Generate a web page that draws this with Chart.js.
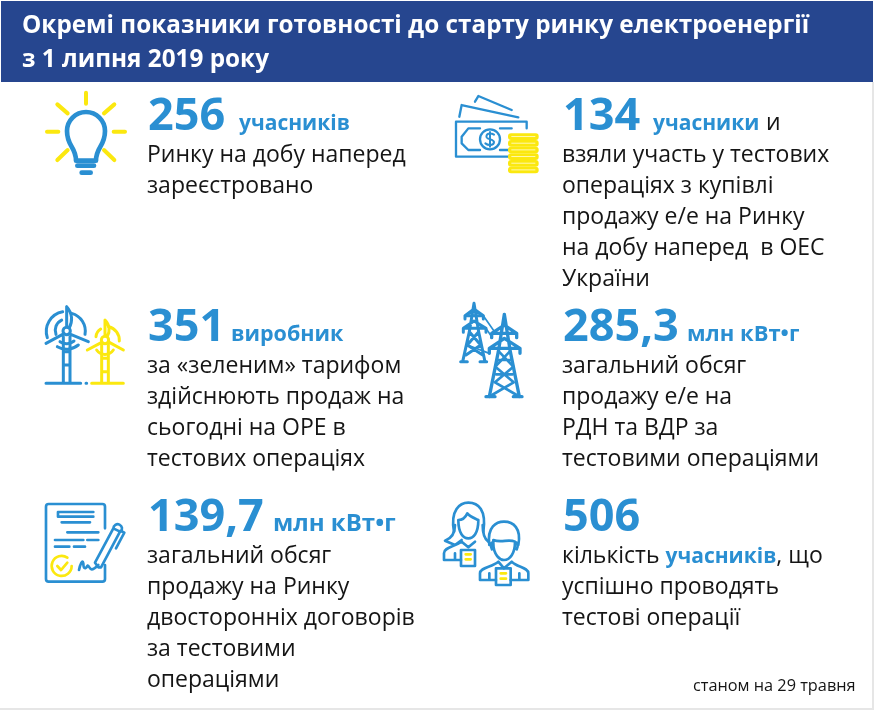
<!DOCTYPE html>
<html>
<head>
<meta charset="utf-8">
<script src="https://cdn.jsdelivr.net/npm/chart.js@4"></script>
<style>
  html, body { margin: 0; padding: 0; background: #fff; }
  #wrap { position: relative; width: 874px; height: 710px; }
</style>
</head>
<body>
<div id="wrap"><canvas id="chart"></canvas></div>
<script>
const titleLines = ['Окремі показники готовності до старту ринку електроенергії', 'з 1 липня 2019 року'];
const indicatorValues = [256, 134, 351, 285.3, 139.7, 506];
const indicatorUnits = ['учасників', 'учасники', 'виробник', 'млн кВт•г', 'млн кВт•г', ''];
const indicatorCaptions = [
    ['Ринку на добу наперед', 'зареєстровано'],
    ['взяли участь у тестових', 'операціях з купівлі', 'продажу е/е на Ринку', 'на добу наперед  в ОЕС', 'України'],
    ['за «зеленим» тарифом', 'здійснюють продаж на', 'сьогодні на ОРЕ в', 'тестових операціях'],
    ['загальний обсяг', 'продажу е/е на', 'РДН та ВДР за', 'тестовими операціями'],
    ['загальний обсяг', 'продажу на Ринку', 'двосторонніх договорів', 'за тестовими', 'операціями'],
    ['кількість *учасників*, що', 'успішно проводять', 'тестові операції']
];
const footNote = 'станом на 29 травня';

// layout only, the text and icons hang off the dataset points
const columnX = [147, 562];
const rowY = [130, 341, 531];
const unitAfter = ['', 'и', '', '', '', ''];
const unitX = [92, 91, 84, 125, 126, 0];
const unitSize = [21, 21, 21.5, 22, 24, 0];
const BLUE = '#2a8fd2', YELLOW = '#fbe80f', NAVY = '#26468f', INK = '#151515';
const FONT = '"Open Sans", sans-serif';

function paths(ctx, color, lw, d) {
    ctx.strokeStyle = color;
    ctx.lineWidth = lw;
    ctx.stroke(new Path2D(d));
}

// icons are sketched at 3x, origin given relative to the indicator point
const icons = [
    { dx: -147, dy: -130, draw(c) {
        paths(c, YELLOW, 12, 'M258 278V311 M141 395H175 M341 395H375 M172 313L203 340 M343 313L312 340 M172 480L203 450 M343 480L312 450');
        paths(c, BLUE, 14, 'M228 482C228 440 201 440 201 393A57 57 0 1 1 315 393C315 440 288 440 288 482Z');
        paths(c, BLUE, 14, 'M232 497H282 M245 518H272');
    } },
    { dx: -122, dy: -50, draw(c) {
        paths(c, BLUE, 7, 'M58 110L65 75L235 112 M105 65L115 48L215 90 M205 230H48V125H260V145');
        paths(c, BLUE, 7, 'M120 145H85L65 170V190L85 210H120 M180 145H215 M180 210H205 M180 178A30 30 0 1 1 120 178A30 30 0 1 1 180 178');
        paths(c, BLUE, 6, 'M162 164C150 156 136 162 140 172C144 180 160 176 162 186C162 196 146 198 136 190 M150 156V200');
        for (let i = 0; i < 6; i++) {
            const y = 160 + i * 20;
            c.fillStyle = YELLOW;
            c.beginPath();
            c.roundRect(204, y, 92, 20, 9);
            c.fill();
            c.fillStyle = '#fff8b0';
            c.fillRect(214, y + 8, 72, 3);
        }
    } },
    { dx: -117, dy: -46, draw(c) {
        const b = 'M100 125V265 M120 125V265 M48 265H152 M100 170H120 M100 210H120 ';
        paths(c, BLUE, 9, b + 'M110 35V95 M110 35C128 55 128 80 118 98 M48 145L98 118 M175 140L122 118');
        paths(c, BLUE, 9, 'M52 128A60 60 0 0 1 98 50 M78 118A34 34 0 0 1 95 75 M125 55A55 55 0 0 1 165 118 M82 155A55 55 0 0 0 145 150 M90 140A35 35 0 0 0 132 138 M121 108A11 11 0 1 1 99 108A11 11 0 1 1 121 108 M168 265H170');
        const y = 'M215 150V265 M235 150V265 M185 265H280 M215 190H235 M215 230H235 ';
        paths(c, YELLOW, 9, y + 'M225 75V120 M225 75C240 90 240 110 232 124 M172 165L215 142 M280 165L238 142');
        paths(c, YELLOW, 9, 'M236 95A42 42 0 0 1 268 138 M198 125A30 30 0 0 1 212 102 M200 165A30 30 0 0 0 250 165 M236 135A11 11 0 1 1 214 135A11 11 0 1 1 236 135');
    } },
    { dx: -112, dy: -46, draw(c) {
        paths(c, BLUE, 9, 'M72 25L58 110L38 200 M72 25L86 110L105 200 M32 200H52 M90 200H110 M45 62H100L72 42Z M40 100H108L72 78Z M58 110L92 150L48 180 M86 110L52 150L98 180 M45 62V72 M100 62V72 M40 100V112 M108 100V112');
        paths(c, BLUE, 5, 'M100 62L132 108 M108 100L125 125 M52 150L118 175');
        paths(c, BLUE, 10, 'M163 58L145 170L118 305 M163 58L181 170L208 305 M108 305H135 M190 305H216 M125 115H200L163 90Z M118 160H210L163 130Z M125 115V128 M200 115V128 M118 160V175 M210 160V175');
        paths(c, BLUE, 8, 'M147 170L190 215L135 262L200 300 M179 170L136 215L191 262L126 300 M143 195H183 M138 238H188');
    } },
    { dx: -117, dy: -41, draw(c) {
        paths(c, BLUE, 8, 'M225 115V50Q225 42 217 42H56Q48 42 48 50V267Q48 275 56 275H217Q225 275 225 267V225');
        paths(c, BLUE, 8, 'M190 66H84V80H190 M95 97H180 M112 127H205 M75 150H160 M172 150H205 M75 170H118 M132 170H165');
        paths(c, BLUE, 8, 'M147 240C150 225 158 205 160 220C160 235 165 240 172 228C175 222 178 238 185 238C192 238 200 230 205 225');
        paths(c, BLUE, 8, 'M205 232L195 218L250 115L270 125L213 232Z M250 115A13 13 0 1 1 272 125 M258 175L283 128L272 122');
        paths(c, YELLOW, 8, 'M125 228A30 30 0 1 1 112 203 M82 228L93 240L112 218');
    } },
    { dx: -132, dy: -41, draw(c) {
        paths(c, BLUE, 8, 'M72 125C60 60 90 38 115 38C145 38 170 60 160 125 M85 90C85 130 100 145 115 145C130 145 145 130 145 90C135 85 120 80 112 70C105 85 95 90 85 90Z');
        paths(c, BLUE, 8, 'M75 105C75 130 65 145 45 152L75 165L95 150 M158 105C158 130 165 148 175 155 M42 210V190C42 172 70 172 95 155L115 172L135 155 M42 210H93 M75 190V210');
        paths(c, BLUE, 8, 'M93 180H135V228H93Z');
        paths(c, YELLOW, 8, 'M107 193H122 M107 208H122');
        c.fillStyle = '#fff';
        c.fill(new Path2D('M178 100H270V215H178Z'));
        paths(c, BLUE, 8, 'M178 165C170 110 200 95 222 95C250 95 275 115 265 165 M190 160C190 195 210 210 222 210C240 210 255 190 255 155C235 145 215 160 190 150Z M190 155Q178 160 186 178 M255 155Q268 160 260 178');
        paths(c, BLUE, 8, 'M150 270V250C150 232 185 232 205 215L222 235L245 215C260 232 295 232 295 250V270H242 M198 270H150 M178 250V270 M268 250V270');
        paths(c, BLUE, 8, 'M198 235H242V285H198Z');
        paths(c, YELLOW, 8, 'M212 250H228 M212 266H228');
    } }
];

const indicatorPoints = indicatorValues.map((v, i) => ({
    x: columnX[i % 2],
    y: rowY[Math.floor(i / 2)]
}));

function drawRuns(ctx, line, x, y) {
    // *word* marks the highlighted part of a caption
    line.split('*').forEach((part, i) => {
        const hot = i % 2 === 1;
        ctx.font = hot ? '700 21px ' + FONT : '400 23px ' + FONT;
        ctx.fillStyle = hot ? BLUE : INK;
        ctx.fillText(part, x, y);
        x += ctx.measureText(part).width;
    });
}

const headerBand = {
    id: 'headerBand',
    beforeDraw(chart) {
        const ctx = chart.ctx;
        ctx.save();
        ctx.fillStyle = '#fff';
        ctx.fillRect(0, 0, chart.width, chart.height);
        ctx.fillStyle = NAVY;
        ctx.fillRect(1, 1, chart.width - 2, 81);
        ctx.fillStyle = '#e6e6e6';
        ctx.fillRect(0, chart.height - 2, chart.width, 2);
        ctx.fillRect(chart.width - 2, 82, 2, chart.height);
        ctx.restore();
    }
};

const indicatorText = {
    id: 'indicatorText',
    afterDatasetsDraw(chart) {
        const ctx = chart.ctx;
        const xs = chart.scales.x, ys = chart.scales.y;
        ctx.save();
        ctx.textBaseline = 'alphabetic';
        ctx.textAlign = 'left';
        indicatorPoints.forEach((p, i) => {
            const px = xs.getPixelForValue(p.x), py = ys.getPixelForValue(p.y);
            const icon = icons[i];
            ctx.save();
            ctx.translate(px + icon.dx, py + icon.dy);
            ctx.scale(1 / 3, 1 / 3);
            ctx.lineCap = 'round';
            ctx.lineJoin = 'round';
            icon.draw(ctx);
            ctx.restore();

            const label = String(indicatorValues[i]).replace('.', ',');
            ctx.font = '700 45px ' + FONT;
            ctx.fillStyle = BLUE;
            ctx.fillText(label, px + 1, py);
            if (indicatorUnits[i]) {
                ctx.font = '700 ' + unitSize[i] + 'px ' + FONT;
                ctx.fillText(indicatorUnits[i], px + unitX[i], py);
            }
            if (unitAfter[i]) {
                ctx.font = '400 23px ' + FONT;
                ctx.fillStyle = INK;
                ctx.fillText(unitAfter[i], px + 204, py);
            }
            indicatorCaptions[i].forEach((line, n) => {
                drawRuns(ctx, line, px, py + 32 + n * 31);
            });
        });
        ctx.font = '400 16.3px ' + FONT;
        ctx.fillStyle = INK;
        ctx.fillText(footNote, 693, 691);
        ctx.restore();
    }
};

new Chart(document.getElementById('chart').getContext('2d'), {
    type: 'scatter',
    data: {
        datasets: [{
            label: 'Показники',
            data: indicatorPoints,
            pointRadius: 0,
            showLine: false
        }]
    },
    options: {
        responsive: true,
        maintainAspectRatio: false,
        animation: false,
        layout: { padding: { left: 22, top: 0, right: 0, bottom: 0 } },
        scales: {
            x: { type: 'linear', display: false, min: 22, max: 874 },
            y: { type: 'linear', display: false, reverse: true, min: 82, max: 710 }
        },
        plugins: {
            legend: { display: false },
            tooltip: { enabled: false },
            title: {
                display: true,
                text: titleLines,
                align: 'start',
                color: '#ffffff',
                font: { family: FONT, size: 24.3, weight: '700', lineHeight: 1.4 },
                padding: { top: 9, bottom: 5 }
            }
        }
    },
    plugins: [headerBand, indicatorText]
});
</script>
</body>
</html>
